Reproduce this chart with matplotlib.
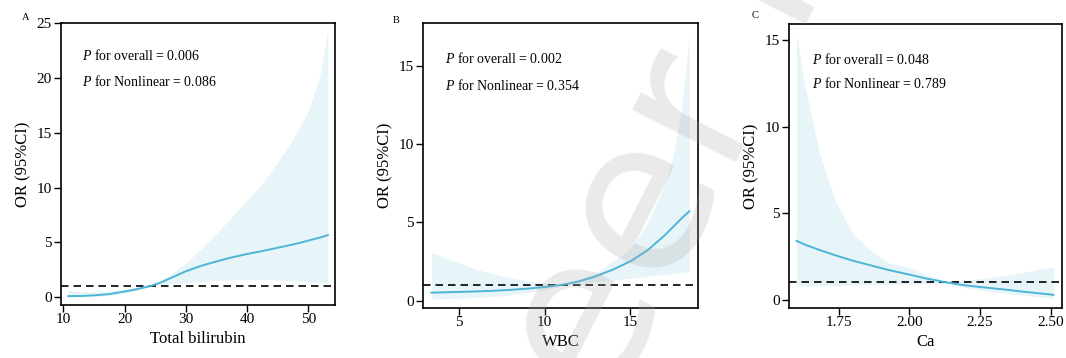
import numpy as np
import matplotlib.pyplot as plt

plt.rcParams['font.family'] = ['Liberation Serif', 'DejaVu Serif']
plt.rcParams['mathtext.fontset'] = 'custom'
plt.rcParams['mathtext.rm'] = 'Liberation Serif'
plt.rcParams['mathtext.it'] = 'Liberation Serif:italic'

# ---- data ----
# A: Total bilirubin
bil_x = [10.8, 13, 15, 17.5, 20, 22, 24.2, 26, 28, 30, 32.5, 35, 37.5, 40, 42.5, 45, 47.5, 50, 52, 53.2]
bil_or = [0.08, 0.10, 0.15, 0.27, 0.50, 0.72, 1.00, 1.35, 1.85, 2.35, 2.85, 3.25, 3.62, 3.93, 4.20, 4.50, 4.80, 5.15, 5.45, 5.66]
bil_hi = [0.60, 0.52, 0.50, 0.55, 0.70, 0.85, 1.05, 1.55, 2.25, 3.10, 4.40, 5.80, 7.30, 8.86, 10.40, 12.30, 14.40, 17.00, 20.50, 24.40]
bil_lo = [0.00, 0.02, 0.05, 0.14, 0.34, 0.60, 0.95, 1.15, 1.24, 1.30, 1.42, 1.52, 1.58, 1.62, 1.60, 1.55, 1.48, 1.40, 1.30, 1.25]

# B: WBC
wbc_x = [3.4, 4, 5, 6, 7, 8, 9, 10, 11, 12, 13, 14, 15, 16, 17, 17.5, 18, 18.45]
wbc_or = [0.50, 0.52, 0.55, 0.58, 0.62, 0.68, 0.76, 0.86, 1.00, 1.22, 1.55, 1.98, 2.50, 3.20, 4.15, 4.70, 5.25, 5.70]
wbc_hi = [3.06, 2.80, 2.40, 2.00, 1.70, 1.45, 1.25, 1.10, 1.05, 1.35, 1.80, 2.50, 3.30, 4.90, 7.40, 9.20, 12.30, 16.90]
wbc_lo = [0.10, 0.12, 0.15, 0.20, 0.26, 0.35, 0.50, 0.68, 0.95, 1.10, 1.20, 1.30, 1.42, 1.55, 1.66, 1.72, 1.78, 1.85]

# C: Ca
ca_x = [1.60, 1.63, 1.68, 1.74, 1.80, 1.87, 1.93, 2.00, 2.06, 2.13, 2.20, 2.27, 2.34, 2.41, 2.47, 2.51]
ca_or = [3.40, 3.18, 2.88, 2.55, 2.25, 1.95, 1.70, 1.45, 1.22, 1.00, 0.82, 0.70, 0.58, 0.45, 0.35, 0.28]
ca_hi = [15.40, 12.30, 8.60, 5.60, 3.80, 2.75, 2.10, 1.85, 1.45, 1.08, 1.12, 1.25, 1.40, 1.60, 1.78, 1.90]
ca_lo = [0.77, 0.78, 0.80, 0.82, 0.84, 0.86, 0.88, 0.90, 0.93, 0.92, 0.68, 0.50, 0.36, 0.24, 0.14, 0.10]

panels = [
    dict(tag="A", x=bil_x, y=bil_or, hi=bil_hi, lo=bil_lo, xlabel="Total bilirubin",
         p1="0.006", p2="0.086", xlim=(9.62, 54.36), ylim=(-0.73, 25.05),
         xticks=[10, 20, 30, 40, 50], yticks=[0, 5, 10, 15, 20, 25], fmt="{:g}",
         pos=[0.0572, 0.148, 0.257, 0.788], tagpos=(0.0206, 0.952), txt=(0.075, 0.883, 0.794)),
    dict(tag="B", x=wbc_x, y=wbc_or, hi=wbc_hi, lo=wbc_lo, xlabel="WBC",
         p1="0.002", p2="0.354", xlim=(2.92, 18.93), ylim=(-0.47, 17.7),
         xticks=[5, 10, 15], yticks=[0, 5, 10, 15], fmt="{:g}",
         pos=[0.397, 0.140, 0.2574, 0.795], tagpos=(0.3687, 0.944), txt=(0.079, 0.877, 0.78)),
    dict(tag="C", x=ca_x, y=ca_or, hi=ca_hi, lo=ca_lo, xlabel="Ca",
         p1="0.048", p2="0.789", xlim=(1.573, 2.541), ylim=(-0.48, 15.92),
         xticks=[1.75, 2.00, 2.25, 2.50], yticks=[0, 5, 10, 15], fmt="{:.2f}",
         pos=[0.740, 0.1397, 0.2564, 0.793], tagpos=(0.7054, 0.958), txt=(0.083, 0.874, 0.79)),
]

line_col = "#4DB5D5"
band_col = "#E7F5F9"

fig = plt.figure(figsize=(10.66, 3.58), dpi=100)

for p in panels:
    ax = fig.add_axes(p["pos"])
    ax.fill_between(p["x"], p["lo"], p["hi"], color=band_col, lw=0, zorder=1)
    ax.plot(p["x"], p["y"], color=line_col, lw=1.4, zorder=3)
    ax.axhline(1, color="black", ls=(0, (4.5, 3)), lw=1.2, zorder=2)
    ax.set_xlim(p["xlim"])
    ax.set_ylim(p["ylim"])
    ax.set_xticks(p["xticks"])
    ax.set_xticklabels([p["fmt"].format(v) for v in p["xticks"]])
    ax.set_yticks(p["yticks"])
    ax.tick_params(labelsize=11, length=5, width=1, colors="black")
    ax.tick_params(axis="x", pad=0.5)
    ax.tick_params(axis="y", pad=1.5)
    for s in ax.spines.values():
        s.set_linewidth(1.2)
    ax.set_xlabel(p["xlabel"], fontsize=12, labelpad=4)
    ax.set_ylabel("OR (95%CI)", fontsize=12, labelpad=4)
    tx, ty1, ty2 = p["txt"]
    ax.text(tx, ty1, r"$\it{P}$ for overall = " + p["p1"], transform=ax.transAxes,
            fontsize=10, va="center", ha="left")
    ax.text(tx, ty2, r"$\it{P}$ for Nonlinear = " + p["p2"], transform=ax.transAxes,
            fontsize=10, va="center", ha="left")
    fig.text(p["tagpos"][0], p["tagpos"][1], p["tag"], fontsize=7.5, ha="left", va="center")

# faint watermark across the figure
fig.text(0.514, -0.487, "peer review", fontsize=153, family="DejaVu Sans",
         rotation=63, rotation_mode="anchor", ha="left", va="baseline",
         color="#a8a8a8", alpha=0.24, zorder=10)

fig.savefig("out.png", dpi=100)
